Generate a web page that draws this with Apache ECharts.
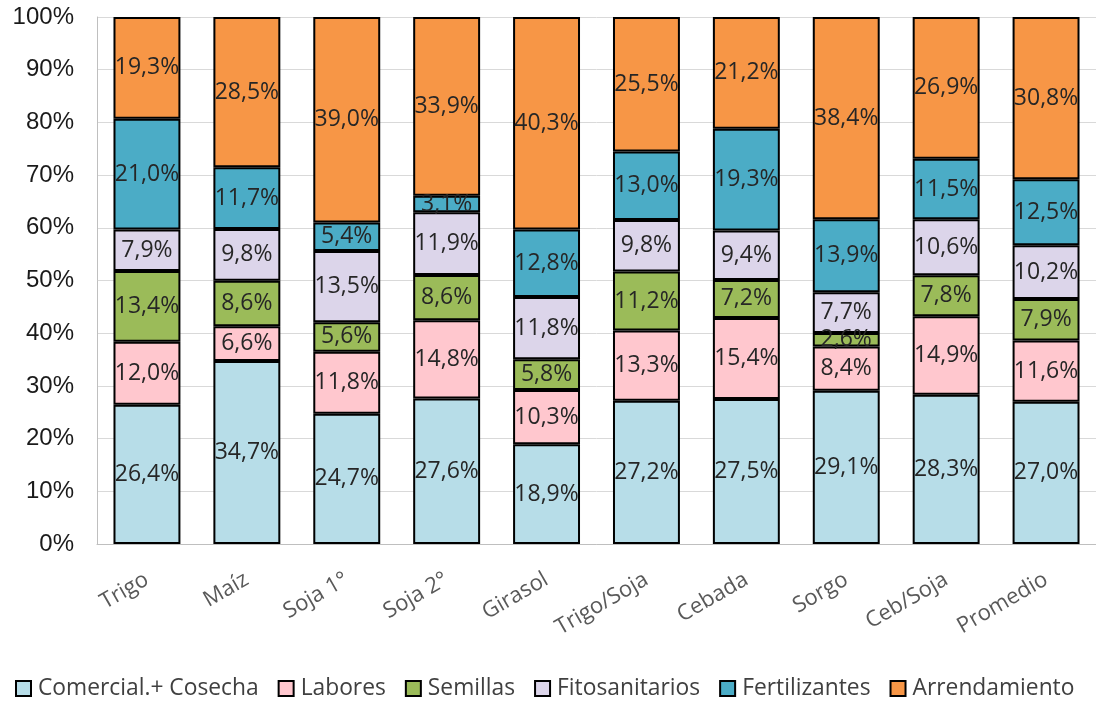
<!DOCTYPE html>
<html>
<head>
<meta charset="utf-8">
<script src="https://cdn.jsdelivr.net/npm/echarts@6/dist/echarts.min.js"></script>
<style>
  html, body { margin: 0; padding: 0; background: #fff; }
  #chart { width: 1096px; height: 705px; }
</style>
</head>
<body>
<div id="chart"></div>
<script>
var categories = ['Trigo', 'Maíz', 'Soja 1°', 'Soja 2°', 'Girasol', 'Trigo/Soja', 'Cebada', 'Sorgo', 'Ceb/Soja', 'Promedio'];
var comercialCosecha = [26.4, 34.7, 24.7, 27.6, 18.9, 27.2, 27.5, 29.1, 28.3, 27.0];
var labores = [12.0, 6.6, 11.8, 14.8, 10.3, 13.3, 15.4, 8.4, 14.9, 11.6];
var semillas = [13.4, 8.6, 5.6, 8.6, 5.8, 11.2, 7.2, 2.6, 7.8, 7.9];
var fitosanitarios = [7.9, 9.8, 13.5, 11.9, 11.8, 9.8, 9.4, 7.7, 10.6, 10.2];
var fertilizantes = [21.0, 11.7, 5.4, 3.1, 12.8, 13.0, 19.3, 13.9, 11.5, 12.5];
var arrendamiento = [19.3, 28.5, 39.0, 33.9, 40.3, 25.5, 21.2, 38.4, 26.9, 30.8];
var yTicks = [0, 10, 20, 30, 40, 50, 60, 70, 80, 90, 100];

var seriesDefs = [
    {name: 'Comercial.+ Cosecha', data: comercialCosecha, color: '#b7dde8'},
    {name: 'Labores', data: labores, color: '#ffc7ce'},
    {name: 'Semillas', data: semillas, color: '#9bbb59'},
    {name: 'Fitosanitarios', data: fitosanitarios, color: '#dcd5ea'},
    {name: 'Fertilizantes', data: fertilizantes, color: '#4bacc6'},
    {name: 'Arrendamiento', data: arrendamiento, color: '#f79646'}
];

// 100% stacked: normalise each column to its total
var totals = categories.map(function(c, i){
    var s = 0;
    seriesDefs.forEach(function(d){ s += d.data[i]; });
    return s;
});

var labelFont = '"Open Sans", "Noto Sans", sans-serif';

var series = seriesDefs.map(function(d){
    return {
        name: d.name,
        type: 'bar',
        stack: 'total',
        barCategoryGap: '33%',
        itemStyle: {color: d.color, borderColor: '#000', borderWidth: 2},
        label: {
            show: true,
            position: 'inside',
            color: '#262626',
            fontFamily: labelFont,
            fontSize: 23,
            formatter: function(p){
                return d.data[p.dataIndex].toFixed(1).replace('.', ',') + '%';
            }
        },
        emphasis: {disabled: true},
        data: d.data.map(function(v, i){ return v / totals[i] * 100; })
    };
});

var chart = echarts.init(document.getElementById('chart'));
chart.setOption({
    animation: false,
    grid: {left: 97, right: -11, top: 17, bottom: 161},
    legend: {
        bottom: 0,
        left: 10,
        itemWidth: 15,
        itemHeight: 15,
        itemGap: 19,
        icon: 'rect',
        textStyle: {fontFamily: labelFont, fontSize: 22.8, color: '#404040', padding: [0, 0, 0, 2]},
        data: seriesDefs.map(function(d){ return d.name; })
    },
    xAxis: {
        type: 'category',
        data: categories,
        axisLine: {lineStyle: {color: '#bfbfbf', width: 1}},
        axisTick: {show: false},
        axisLabel: {
            rotate: 30,
            margin: 34,
            color: '#595959',
            fontFamily: labelFont,
            fontSize: 22
        }
    },
    yAxis: {
        type: 'value',
        min: yTicks[0],
        max: yTicks[yTicks.length - 1],
        interval: 10,
        axisLine: {show: true, lineStyle: {color: '#bfbfbf', width: 1}},
        axisTick: {show: false},
        splitLine: {lineStyle: {color: '#d9d9d9', width: 1}},
        axisLabel: {
            margin: 23,
            color: '#1a1a1a',
            fontFamily: '"Liberation Sans", Arial, sans-serif',
            fontSize: 24,
            formatter: '{value}%'
        }
    },
    series: series
});
</script>
</body>
</html>
